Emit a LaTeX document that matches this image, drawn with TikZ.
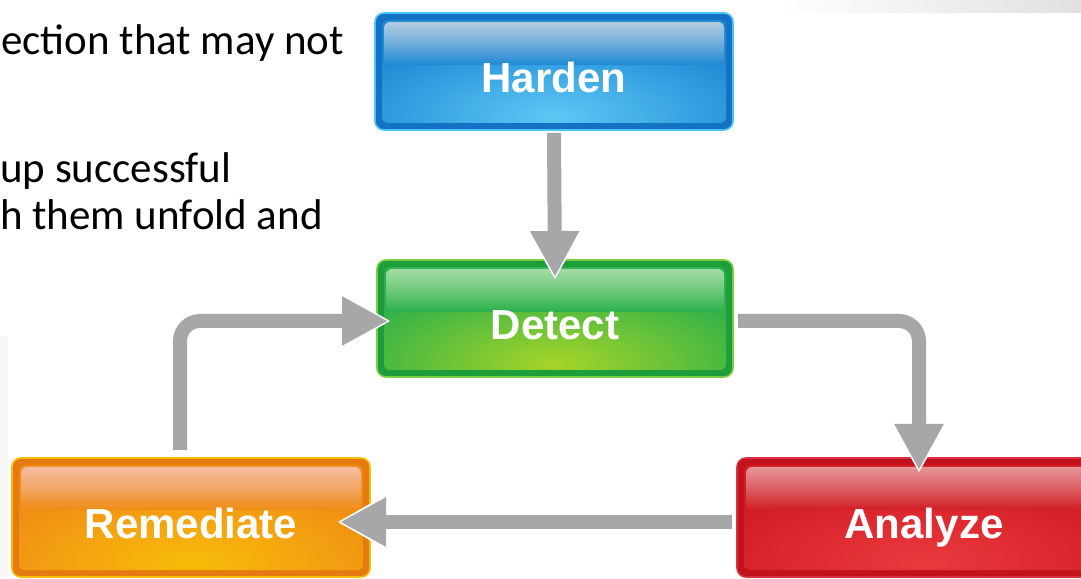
\documentclass[tikz,border=0pt]{standalone}
\usepackage{fontspec}
\setmainfont{Carlito}
\newfontfamily\tilefont{Liberation Sans}
\usetikzlibrary{arrows.meta,calc}

% tile colours: edge, body, glow, gloss, rim
\definecolor{blueedge}{HTML}{1372C4}
\definecolor{bluebody}{HTML}{1E88D5}
\definecolor{blueglow}{HTML}{5CC8F4}
\definecolor{bluegloss}{HTML}{B2CCE0}
\definecolor{bluerim}{HTML}{4CC4F4}

\definecolor{greenedge}{HTML}{1E9E3A}
\definecolor{greenbody}{HTML}{2BB04A}
\definecolor{greenglow}{HTML}{A6D428}
\definecolor{greengloss}{HTML}{A2DCA2}
\definecolor{greenrim}{HTML}{78D040}

\definecolor{orangeedge}{HTML}{E57A10}
\definecolor{orangebody}{HTML}{EF8C14}
\definecolor{orangeglow}{HTML}{F9BC0A}
\definecolor{orangegloss}{HTML}{F4BCA2}
\definecolor{orangerim}{HTML}{F6BD00}

\definecolor{rededge}{HTML}{C2121C}
\definecolor{redbody}{HTML}{D21C24}
\definecolor{redglow}{HTML}{EA3A3E}
\definecolor{redgloss}{HTML}{E69496}
\definecolor{redrim}{HTML}{D83040}

\definecolor{arrowgray}{HTML}{A7A7A9}

\tikzset{
  tile/.style={
    rounded corners=9pt, draw=#1rim, line width=1.6pt, fill=#1edge,
    minimum height=117pt, inner sep=0pt, outer sep=0pt,
    text=white, font=\tilefont\bfseries\fontsize{42}{48}\selectfont,
    text height=42pt, text depth=0pt,
    path picture={
      \coordinate (ppsw) at (path picture bounding box.south west);
      \coordinate (ppse) at (path picture bounding box.south east);
      \coordinate (ppnw) at (path picture bounding box.north west);
      \coordinate (ppne) at (path picture bounding box.north east);
      \fill[#1body, rounded corners=6pt] ($(ppsw)+(7pt,7pt)$) rectangle ($(ppne)+(-7pt,-7pt)$);
      \begin{scope}
        \clip[rounded corners=6pt] ($(ppsw)+(7pt,7pt)$) rectangle ($(ppne)+(-7pt,-7pt)$);
        \shade[inner color=#1glow, outer color=#1body]
          ($(ppsw)!0.5!(ppse)+(0,14pt)$) ellipse [x radius=230pt, y radius=85pt];
      \end{scope}
      \shade[top color=#1gloss, bottom color=#1body, middle color=#1gloss!55!#1body, rounded corners=6pt]
        ($(ppnw)+(9pt,-9pt)$) rectangle ($(ppne)+(-9pt,-52pt)$);
    }
  },
  notetext/.style={anchor=base west, inner sep=0pt, font=\fontsize{43}{48}\selectfont, text=black},
  flowhalo/.style={draw=white, line width=14pt, shorten >=-3pt,
    -{Triangle[length=52pt,width=54pt]}},
  flow/.style={draw=arrowgray, line width=14pt,
    -{Triangle[length=46pt,width=46pt]}}
}

\begin{document}
\begin{tikzpicture}[x=1pt,y=1pt]
  \useasboundingbox (0,0) rectangle (1081,578);
  \clip (0,0) rectangle (1081,578);
  \fill[white] (0,0) rectangle (1081,578);

  % faint page shading at the edges
  \shade[left color=white, right color=black!12] (780,565) rectangle (1081,578);
  \fill[black!3] (0,0) rectangle (8,242);

  % body text fragments
  \node[notetext] (t1) at (1,523) {ection that may not};
  \node[notetext] (t2) at (0,395) {up successful};
  \node[notetext] (t3) at (0,348) {h them unfold and};

  % the four stages
  \node[tile=blue,   minimum width=358pt] (harden)    at (554,506.5) {Harden};
  \node[tile=green,  minimum width=356pt] (detect)    at (555,259.5) {Detect};
  \node[tile=orange, minimum width=358pt, minimum height=119pt] (remediate) at (191,60.5) {Remediate};
  \node[tile=red,    minimum width=374pt, minimum height=119pt] (analyze)   at (924,60.5) {Analyze};

  % connectors: white halo first, grey arrow on top
  \draw[flowhalo] ([yshift=-3pt]harden.south) -- ([yshift=-17pt]detect.north);
  \draw[flow]     ([yshift=-3pt]harden.south) -- ([yshift=-17pt]detect.north);

  \draw[flowhalo, rounded corners=20pt] ([xshift=-11pt,yshift=8pt]remediate.north) |- ([xshift=11pt,yshift=-2.5pt]detect.west);
  \draw[flow, rounded corners=20pt]     ([xshift=-11pt,yshift=8pt]remediate.north) |- ([xshift=11pt,yshift=-2.5pt]detect.west);

  \draw[flowhalo, rounded corners=20pt] ([xshift=5pt,yshift=-2.5pt]detect.east) -| ([xshift=-5pt,yshift=-12pt]analyze.north);
  \draw[flow, rounded corners=20pt]     ([xshift=5pt,yshift=-2.5pt]detect.east) -| ([xshift=-5pt,yshift=-12pt]analyze.north);

  \draw[flowhalo] ([xshift=-5pt,yshift=-4.5pt]analyze.west) -- ([xshift=-30pt,yshift=-4.5pt]remediate.east);
  \draw[flow]     ([xshift=-5pt,yshift=-4.5pt]analyze.west) -- ([xshift=-30pt,yshift=-4.5pt]remediate.east);
\end{tikzpicture}
\end{document}
